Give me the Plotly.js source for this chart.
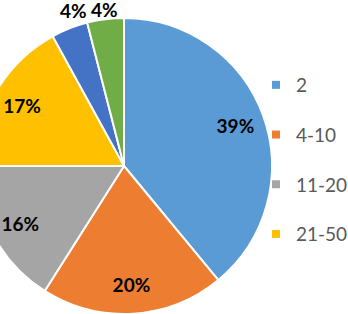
<!DOCTYPE html>
<html>
<head>
<meta charset="utf-8">
<script src="https://cdn.plot.ly/plotly-3.0.1.min.js"></script>
<style>
html,body{margin:0;padding:0;overflow:hidden;background:#fff;width:348px;height:314px;}
#chart{width:440px;height:400px;margin-left:-66px;margin-top:-40px;}
</style>
</head>
<body>
<div id="chart"></div>
<script>
const categories = ["2", "4-10", "11-20", "21-50", "51-100", ">100"];
const shares = [39, 20, 16, 17, 4, 4];
const colors = ["#5B9BD5", "#ED7D31", "#A5A5A5", "#FFC000", "#4472C4", "#70AD47"];
const legendCount = 4;      // legend entries visible in the reference
const innerLabelCount = 4;  // first slices labelled inside, the rest above the pie

const W = 440, H = 400;
const cx = 190, cy = 206, R = 148;
function dom(r) {
  return {x: [(cx - r) / W, (cx + r) / W], y: [(H - (cy + r)) / H, (H - (cy - r)) / H]};
}
const labelFont = {family: "Lato, sans-serif", size: 19, color: "#000000", weight: "bold"};
const clear = categories.map(() => "rgba(0,0,0,0)");
function labelRing(textArr, hole, radius, rot) {
  return {
    type: "pie", labels: categories, values: shares, sort: false,
    direction: "clockwise", rotation: rot, hole: hole,
    marker: {colors: clear, line: {width: 0}},
    text: textArr, textinfo: "text", textposition: "inside",
    insidetextorientation: "horizontal", textfont: labelFont,
    domain: dom(radius), showlegend: false, hoverinfo: "skip"
  };
}
const innerText = shares.map((v, i) => i < innerLabelCount ? v + "%" : "");
const outerTextA = shares.map((v, i) => i === innerLabelCount ? v + "%" : "");
const outerTextB = shares.map((v, i) => i === innerLabelCount + 1 ? v + "%" : "");

const traces = [
  {
    type: "pie", labels: categories, values: shares, sort: false,
    direction: "clockwise", rotation: 0,
    marker: {colors: colors, line: {color: "#ffffff", width: 2}},
    textinfo: "none", domain: dom(R), showlegend: false, hoverinfo: "skip"
  },
  labelRing(innerText, 0.6, R, 0),
  labelRing(outerTextA, 0.7, 184, 3.5),
  labelRing(outerTextB, 0.7, 177, 0)
];

for (let i = 0; i < legendCount; i++) {
  traces.push({
    type: "scatter", mode: "markers", x: [null], y: [null],
    name: categories[i], legendgroup: "g" + i,
    marker: {symbol: "square", size: 8, color: colors[i]},
    hoverinfo: "skip"
  });
}

const layout = {
  width: W, height: H,
  margin: {l: 0, r: 0, t: 0, b: 0, autoexpand: false},
  paper_bgcolor: "#ffffff", plot_bgcolor: "#ffffff",
  xaxis: {visible: false}, yaxis: {visible: false},
  showlegend: true,
  legend: {
    x: 322 / W, y: 1 - 106 / H, xanchor: "left", yanchor: "top",
    traceorder: "grouped", tracegroupgap: 22,
    font: {family: "Lato, sans-serif", size: 19, color: "#595959"},
    bgcolor: "rgba(0,0,0,0)"
  }
};

Plotly.newPlot("chart", traces, layout, {staticPlot: true, displayModeBar: false});
</script>
</body>
</html>
